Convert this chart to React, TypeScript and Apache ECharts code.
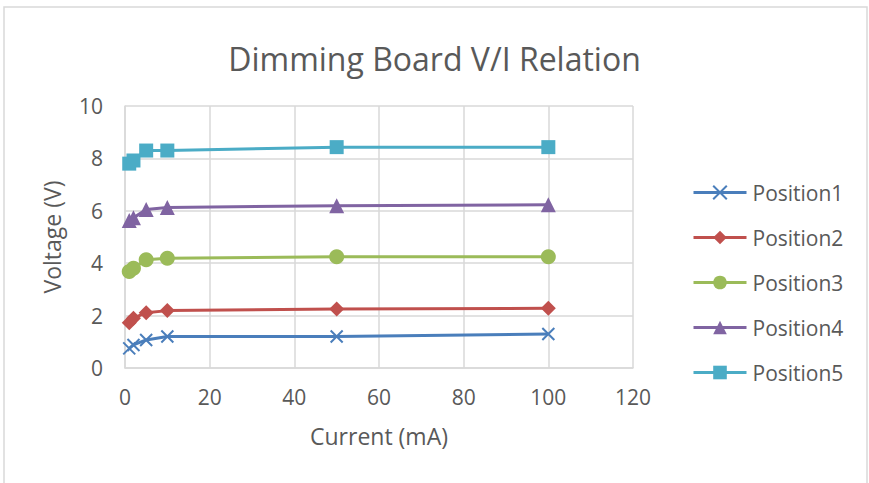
import React, { useEffect, useRef } from "react";
import * as echarts from "echarts";

const currents = [1, 2, 5, 10, 50, 100];
const position1 = [0.75, 0.88, 1.07, 1.2, 1.2, 1.3];
const position2 = [1.73, 1.9, 2.11, 2.19, 2.25, 2.28];
const position3 = [3.68, 3.81, 4.13, 4.19, 4.25, 4.25];
const position4 = [5.63, 5.73, 6.05, 6.13, 6.19, 6.23];
const position5 = [7.8, 7.92, 8.3, 8.3, 8.43, 8.43];
const seriesNames = ["Position1", "Position2", "Position3", "Position4", "Position5"];
const seriesColors = ["#4A7EBB", "#C0504D", "#9BBB59", "#8064A2", "#4BACC6"];
const seriesSymbols = [
  "path://M0,0L10,10M10,0L0,10",
  "diamond",
  "circle",
  "triangle",
  "rect",
];
const seriesSymbolSizes = [12, 15, 15, 15, 14];
const allValues = [position1, position2, position3, position4, position5];

const FONT = "'Open Sans', sans-serif";
const TEXT = "#595959";
const GRID = "#d9d9d9";

export default function App() {
  const ref = useRef<HTMLDivElement>(null);
  useEffect(() => {
    if (!ref.current) return;
    const chart = echarts.init(ref.current, undefined, { renderer: "svg" });
    const series = seriesNames.map((name, i) => ({
      name,
      type: "line",
      data: currents.map((c, j) => [c, allValues[i][j]]),
      symbol: seriesSymbols[i],
      symbolSize: seriesSymbolSizes[i],
      showAllSymbol: true,
      lineStyle: { color: seriesColors[i], width: 3 },
      itemStyle:
        i === 0
          ? { color: "none", borderColor: seriesColors[i], borderWidth: 2 }
          : { color: seriesColors[i], borderWidth: 0 },
      emphasis: { disabled: true },
      z: 2 + i,
    }));
    chart.setOption({
      animation: false,
      backgroundColor: "#ffffff",
      textStyle: { fontFamily: FONT },
      title: {
        text: "Dimming Board V/I Relation",
        left: "center",
        top: 37,
        textStyle: { fontFamily: FONT, fontSize: 32, fontWeight: "normal", color: TEXT },
      },
      graphic: [
        {
          type: "rect",
          shape: { x: 4, y: 7, width: 863, height: 490 },
          style: { fill: "none", stroke: GRID, lineWidth: 1.5 },
          silent: true,
        },
      ],
      legend: {
        orient: "vertical",
        left: 687,
        top: 177,
        itemWidth: 53,
        itemHeight: 17,
        itemGap: 24,
        lineStyle: { width: 3 },
        textStyle: { fontFamily: FONT, fontSize: 21, color: TEXT, padding: [0, 0, 0, 1] },
        data: seriesNames,
      },
      grid: { left: 125, right: 236, top: 106, bottom: 115, containLabel: false },
      xAxis: {
        type: "value",
        min: 0,
        max: 120,
        interval: 20,
        name: "Current (mA)",
        nameLocation: "middle",
        nameGap: 56,
        nameTextStyle: { fontFamily: FONT, fontSize: 23, color: TEXT },
        axisLine: { show: true, lineStyle: { color: GRID, width: 1.5 } },
        axisTick: { show: false },
        axisLabel: { fontFamily: FONT, fontSize: 21, color: TEXT, margin: 18 },
        splitLine: { show: true, lineStyle: { color: GRID, width: 1.5 } },
      },
      yAxis: {
        type: "value",
        min: 0,
        max: 10,
        interval: 2,
        name: "Voltage (V)",
        nameLocation: "middle",
        nameGap: 62,
        nameTextStyle: { fontFamily: FONT, fontSize: 23, color: TEXT },
        axisLine: { show: true, lineStyle: { color: GRID, width: 1.5 } },
        axisTick: { show: false },
        axisLabel: { fontFamily: FONT, fontSize: 21, color: TEXT, margin: 22 },
        splitLine: { show: true, lineStyle: { color: GRID, width: 1.5 } },
      },
      series,
    });
    return () => chart.dispose();
  }, []);
  return (
    <div
      ref={ref}
      style={{ position: "fixed", left: 0, top: 0, width: 869, height: 483 }}
    />
  );
}
